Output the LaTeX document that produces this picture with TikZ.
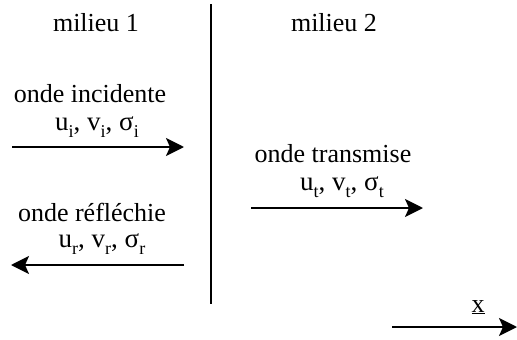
\documentclass[tikz,border=0pt]{standalone}
\usepackage{fontspec}
\setmainfont{Liberation Serif}
\usetikzlibrary{arrows.meta}
\newcommand\mysubx[1]{\raisebox{-0.28em}{\fontsize{18}{20}\selectfont #1}}
\tikzset{
  lbl/.style={anchor=base, inner sep=0pt, font=\fontsize{26}{30}\selectfont},
  qty/.style={anchor=base, inner sep=0pt, font=\fontsize{27}{30}\selectfont},
  wave/.style={line width=2pt, -{Stealth[length=18pt, width=18pt, inset=4pt]}},
  wall/.style={line width=2pt}
}
\begin{document}
\begin{tikzpicture}[x=1pt, y=-1pt]
\useasboundingbox (0,0) rectangle (517,340);
\node[lbl] (m1) at (96,31) {milieu 1};
\node[lbl] (m2) at (334,31) {milieu 2};
\coordinate (wt) at (211,4);
\coordinate (wb) at (211,304);
\draw[wall] (wt) -- (wb);

\node[lbl] (inc) at (90,102) {onde incidente};
\node[qty] (qi) at (97,130) {u\mysubx{i}, v\mysubx{i}, σ\mysubx{i}};
\coordinate (i1) at (12,147);
\coordinate (i2) at (184,147);
\draw[wave] (i1) -- (i2);

\node[lbl] (ref) at (92,221) {onde réfléchie};
\node[qty] (qr) at (102,247) {u\mysubx{r}, v\mysubx{r}, σ\mysubx{r}};
\coordinate (r1) at (184,265);
\coordinate (r2) at (11,265);
\draw[wave] (r1) -- (r2);

\node[lbl] (tra) at (333,162) {onde transmise};
\node[qty] (qt) at (342,190) {u\mysubx{t}, v\mysubx{t}, σ\mysubx{t}};
\coordinate (t1) at (251,208);
\coordinate (t2) at (423,208);
\draw[wave] (t1) -- (t2);

\node[lbl] (xl) at (478,312) {\underline{x}};
\coordinate (x1) at (392,327);
\coordinate (x2) at (517,327);
\draw[wave] (x1) -- (x2);
\end{tikzpicture}
\end{document}
